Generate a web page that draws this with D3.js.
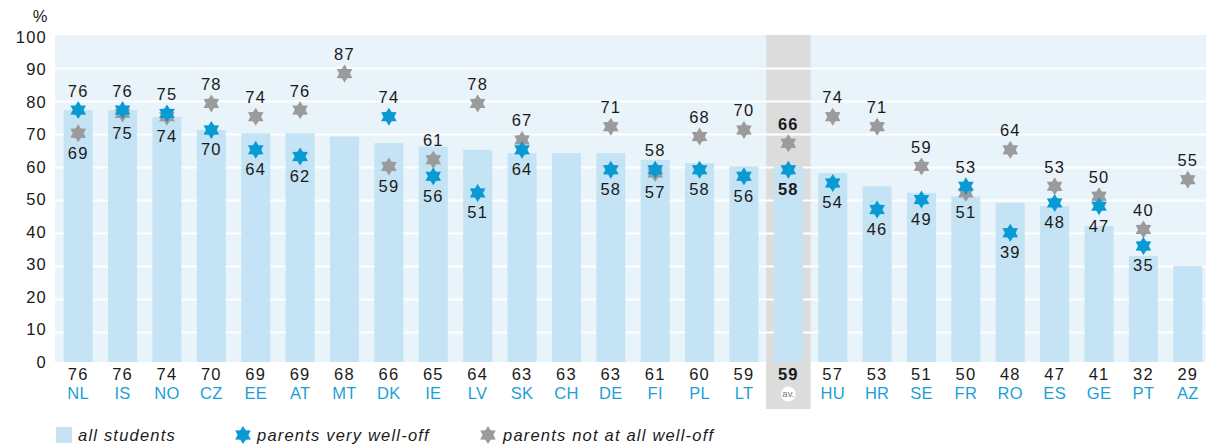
<!DOCTYPE html>
<html>
<head>
<meta charset="utf-8">
<script src="https://cdn.jsdelivr.net/npm/d3@7"></script>
<style>
  html, body { margin: 0; padding: 0; background: #fff; }
  svg { display: block; font-family: "Liberation Sans", Arial, sans-serif; }
</style>
</head>
<body>
<svg id="chart" width="1206" height="445"></svg>
<script>
const categories = ["NL","IS","NO","CZ","EE","AT","MT","DK","IE","LV","SK","CH","DE","FI","PL","LT","av.","HU","HR","SE","FR","RO","ES","GE","PT","AZ"];
const allStudents = [76,76,74,70,69,69,68,66,65,64,63,63,63,61,60,59,59,57,53,51,50,48,47,41,32,29];
const parentsVeryWellOff = [76,76,75,70,64,62,null,74,56,51,64,null,58,58,58,56,58,54,46,49,53,39,48,47,35,null];
const parentsNotWellOff = [69,75,74,78,74,76,87,59,61,78,67,null,71,57,68,70,66,74,71,59,51,64,53,50,40,55];
const yTicks = [0,10,20,30,40,50,60,70,80,90,100];
const avKey = "av.";

const svg = d3.select("#chart");
const W = 1206;
const plotTop = 35, plotBottom = 362, plotLeft = 55;
const FS = 16.5, LS = 1.2;

const x = d3.scaleBand().domain(categories).range([56, 1210]).paddingInner(0.346).paddingOuter(0.173);
const y = d3.scaleLinear().domain([0, 100]).range([362, 30.5]);      // marks
const yGrid = d3.scaleLinear().domain([0, 100]).range([365.5, 35.5]); // grid lines
const yLab = d3.scaleLinear().domain([0, 100]).range([362, 37]);      // tick labels
const cx = d => x(d) + x.bandwidth() / 2;

const COL_BG = "#e8f3fa", COL_BAR = "#c4e3f4", COL_BLUE = "#0a9ad3", COL_GRAY = "#9b9b9b", COL_CODE = "#1b9fd8", COL_AV = "#dcdcdc", COL_TXT = "#1a1a1a";

// star symbol (hexagram)
const hexagram = {
  draw(ctx, size) {
    const R = Math.sqrt(size), r = R * 0.6;
    for (let i = 0; i < 12; i++) {
      const a = -Math.PI / 2 + i * Math.PI / 6;
      const rr = i % 2 === 0 ? R : r;
      const px = rr * Math.cos(a), py = rr * Math.sin(a);
      if (i === 0) ctx.moveTo(px, py); else ctx.lineTo(px, py);
    }
    ctx.closePath();
  }
};
const starPath = d3.symbol().type(hexagram).size(9 * 9)();

// plot background
svg.append("rect").attr("x", plotLeft).attr("y", plotTop).attr("width", W - plotLeft).attr("height", plotBottom - plotTop).attr("fill", COL_BG);

// average band
svg.append("rect")
  .attr("x", cx(avKey) - x.step() / 2).attr("y", plotTop)
  .attr("width", x.step()).attr("height", 409 - plotTop)
  .attr("fill", COL_AV);

// grid lines
svg.append("g").selectAll("line").data(yTicks.filter(t => t > 0 && t < 100)).join("line")
  .attr("x1", plotLeft).attr("x2", W)
  .attr("y1", d => yGrid(d)).attr("y2", d => yGrid(d))
  .attr("stroke", "#fff").attr("stroke-width", 2);

// y tick labels
svg.append("g").selectAll("text").data(yTicks).join("text")
  .attr("x", 47).attr("y", d => yLab(d)).attr("dy", "0.36em")
  .attr("text-anchor", "end").attr("font-size", FS).attr("letter-spacing", LS).attr("fill", COL_TXT)
  .text(d => d);
svg.append("text").attr("x", 40).attr("y", 16).attr("dy", "0.36em").attr("text-anchor", "middle")
  .attr("font-size", FS).attr("fill", COL_TXT).text("%");

// bars
svg.append("g").selectAll("rect").data(categories).join("rect")
  .attr("x", d => x(d)).attr("width", x.bandwidth())
  .attr("y", (d, i) => y(allStudents[i]))
  .attr("height", (d, i) => plotBottom - y(allStudents[i]))
  .attr("fill", COL_BAR);

// stars: gray first, blue on top
const gStars = svg.append("g");
categories.forEach((c, i) => {
  const g = parentsNotWellOff[i];
  if (g != null) gStars.append("path").attr("d", starPath).attr("transform", `translate(${cx(c)},${y(g)})`).attr("fill", COL_GRAY);
});
categories.forEach((c, i) => {
  const b = parentsVeryWellOff[i];
  if (b != null) gStars.append("path").attr("d", starPath).attr("transform", `translate(${cx(c)},${y(b)})`).attr("fill", COL_BLUE);
});

// star labels
const gLab = svg.append("g").attr("font-size", FS).attr("letter-spacing", LS).attr("fill", COL_TXT).attr("text-anchor", "middle");
categories.forEach((c, i) => {
  const b = parentsVeryWellOff[i], g = parentsNotWellOff[i];
  const bold = c === avKey ? "bold" : "normal";
  const items = [];
  if (b != null && g != null) {
    if (b >= g) { items.push([b, -1]); items.push([g, 1]); }
    else { items.push([g, -1]); items.push([b, 1]); }
  } else if (b != null) items.push([b, -1]);
  else if (g != null) items.push([g, -1]);
  items.forEach(([v, dir]) => {
    gLab.append("text").attr("x", cx(c)).attr("y", y(v) + dir * 19.5).attr("dy", "0.36em")
      .attr("font-weight", bold).text(v);
  });
});

// bottom labels
const gBot = svg.append("g").attr("text-anchor", "middle").attr("font-size", FS);
categories.forEach((c, i) => {
  gBot.append("text").attr("x", cx(c)).attr("y", 374).attr("dy", "0.36em").attr("letter-spacing", LS)
    .attr("fill", COL_TXT).attr("font-weight", c === avKey ? "bold" : "normal").text(allStudents[i]);
  if (c === avKey) {
    gBot.append("circle").attr("cx", cx(c)).attr("cy", 394).attr("r", 7.5).attr("fill", "#fff");
    gBot.append("text").attr("x", cx(c)).attr("y", 393.5).attr("dy", "0.36em").attr("font-size", 9.5).attr("fill", "#777").text("av.");
  } else {
    gBot.append("text").attr("x", cx(c)).attr("y", 393).attr("dy", "0.36em").attr("letter-spacing", 0.3).attr("fill", COL_CODE).text(c);
  }
});

// legend
const lg = svg.append("g").attr("font-size", FS).attr("font-style", "italic").attr("fill", COL_TXT).attr("letter-spacing", 1.2);
lg.append("rect").attr("x", 56).attr("y", 427).attr("width", 16).attr("height", 16).attr("fill", COL_BAR);
lg.append("text").attr("x", 78).attr("y", 435).attr("dy", "0.36em").text("all students");
lg.append("path").attr("d", starPath).attr("transform", "translate(243,435)").attr("fill", COL_BLUE);
lg.append("text").attr("x", 257).attr("y", 435).attr("dy", "0.36em").text("parents very well-off");
lg.append("path").attr("d", starPath).attr("transform", "translate(488,435)").attr("fill", COL_GRAY);
lg.append("text").attr("x", 503).attr("y", 435).attr("dy", "0.36em").text("parents not at all well-off");
</script>
</body>
</html>
